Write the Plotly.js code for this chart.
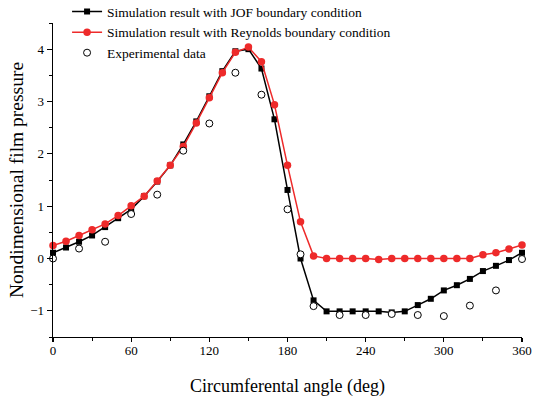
<!DOCTYPE html>
<html>
<head>
<meta charset="utf-8">
<script src="https://cdn.plot.ly/plotly-3.0.1.min.js"></script>
<style>html,body{margin:0;padding:0;background:#fff;}#chart{width:534px;height:400px;}</style>
</head>
<body>
<div id="chart"></div>
<script>
var angles = [0,10,20,30,40,50,60,70,80,90,100,110,120,130,140,150,160,170,180,190,200,210,220,230,240,250,260,270,280,290,300,310,320,330,340,350,360];
var jofPressure = [0.11,0.21,0.32,0.44,0.60,0.77,0.94,1.19,1.47,1.78,2.18,2.62,3.10,3.58,3.96,4.00,3.63,2.66,1.31,0.00,-0.80,-1.01,-1.01,-1.01,-1.01,-1.01,-1.03,-1.01,-0.89,-0.77,-0.61,-0.51,-0.39,-0.24,-0.14,-0.03,0.11];
var reynoldsPressure = [0.25,0.33,0.44,0.55,0.66,0.82,1.01,1.19,1.48,1.78,2.14,2.59,3.07,3.55,3.94,4.04,3.76,2.94,1.78,0.70,0.05,0.00,0.00,0.00,0.00,-0.02,0.00,0.00,0.00,0.00,0.00,0.00,0.00,0.07,0.11,0.18,0.26];
var expAngles = [0,20,40,60,80,100,120,140,160,180,190,200,220,240,260,280,300,320,340,360];
var expPressure = [0.00,0.19,0.32,0.85,1.22,2.06,2.58,3.55,3.13,0.94,0.08,-0.91,-1.08,-1.08,-1.06,-1.08,-1.10,-0.90,-0.61,-0.01];
var seriesNames = ["Simulation result with JOF boundary condition","Simulation result with Reynolds boundary condition","Experimental data"];
var xTitle = "Circumferental angle (deg)";
var yTitle = "Nondimensional film pressure";

var serif = "Liberation Serif, Times New Roman, serif";
var traces = [
  {x: angles, y: jofPressure, name: seriesNames[0], type: "scatter", mode: "lines+markers",
   line: {color: "#000000", width: 1.5}, marker: {symbol: "square", size: 6, color: "#000000"}, cliponaxis: false},
  {x: angles, y: reynoldsPressure, name: seriesNames[1], type: "scatter", mode: "lines+markers",
   line: {color: "#ee2a2a", width: 1.5}, marker: {symbol: "circle", size: 7.5, color: "#ee2a2a"}, cliponaxis: false},
  {x: expAngles, y: expPressure, name: seriesNames[2], type: "scatter", mode: "markers",
   marker: {symbol: "circle", size: 7, color: "#ffffff", line: {color: "#000000", width: 1}}, cliponaxis: false}
];
var layout = {
  width: 534, height: 400,
  margin: {l: 53, r: 12, t: 23, b: 63, autoexpand: false},
  paper_bgcolor: "#ffffff", plot_bgcolor: "#ffffff",
  font: {family: serif, size: 13, color: "#000000"},
  showlegend: true,
  legend: {x: 0.03, y: 1.085, xanchor: "left", yanchor: "top", bgcolor: "rgba(0,0,0,0)",
           font: {family: serif, size: 13.5, color: "#000"}, tracegroupgap: 0},
  xaxis: {range: [0, 360], dtick: 60, tick0: 0, showgrid: false, zeroline: false,
          showline: true, linecolor: "#000", linewidth: 1.3, ticks: "outside", ticklen: 4, tickwidth: 1.3, tickcolor: "#000",
          ticklabelstandoff: -3,
          minor: {dtick: 30, ticks: "outside", ticklen: 3, tickwidth: 1, tickcolor: "#000", showgrid: false},
          tickfont: {family: serif, size: 13},
          title: {text: xTitle, font: {family: serif, size: 18}, standoff: 22}},
  yaxis: {range: [-1.5, 4.5], dtick: 1, tick0: 0, showgrid: false, zeroline: false,
          showline: true, linecolor: "#000", linewidth: 1.3, ticks: "outside", ticklen: 5, tickwidth: 1.3, tickcolor: "#000",
          minor: {dtick: 0.5, ticks: "outside", ticklen: 3, tickwidth: 1, tickcolor: "#000", showgrid: false},
          tickfont: {family: serif, size: 13},
          title: {text: yTitle, font: {family: serif, size: 19.5}, standoff: 1}}
};
Plotly.newPlot("chart", traces, layout, {displayModeBar: false, staticPlot: true});
</script>
</body>
</html>
